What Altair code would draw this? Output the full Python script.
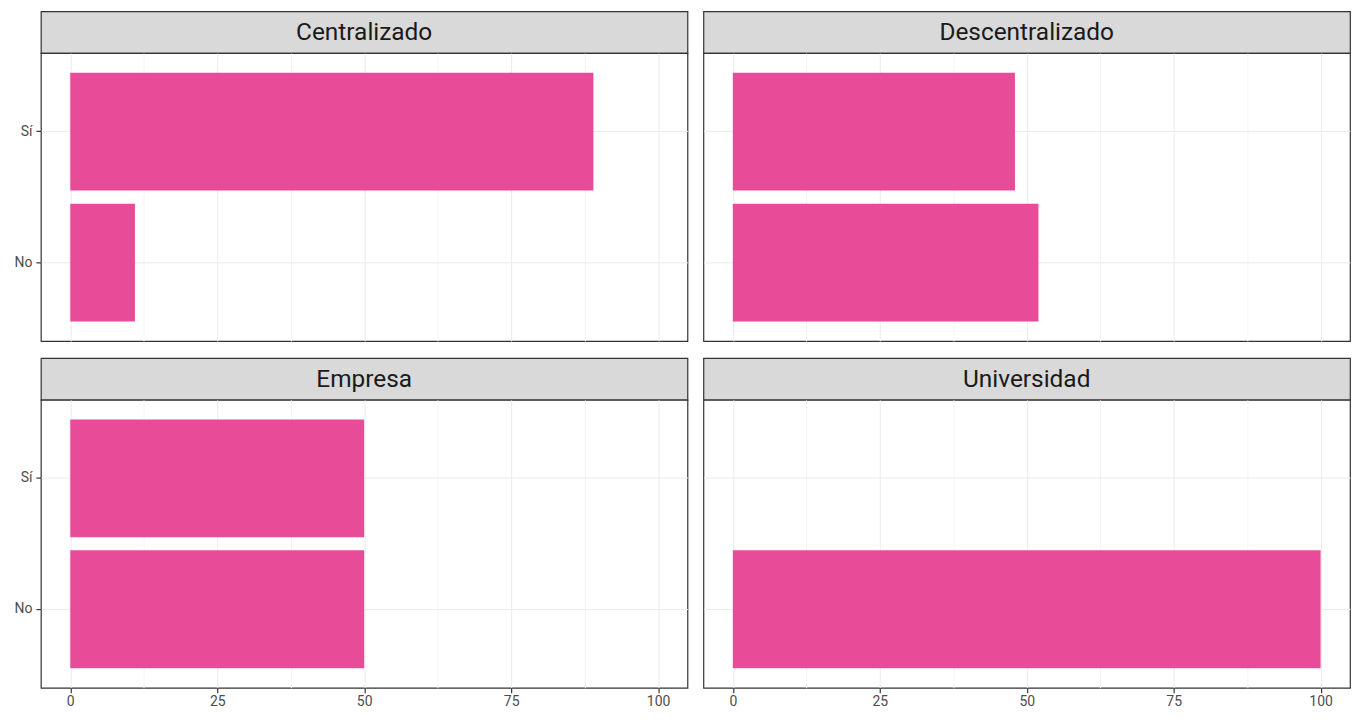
import altair as alt
import pandas as pd

groups = ["Centralizado", "Descentralizado", "Empresa", "Universidad"]
responses = ["Sí", "No"]
values_si = [89, 48, 50, 0]
values_no = [11, 52, 50, 100]
x_ticks = [0, 12.5, 25, 37.5, 50, 62.5, 75, 87.5, 100]

PINK = "#E84C99"
W = 649
PH = 289
SH = 42
FONT = "Roboto"


def panel(i, show_y, show_x):
    name = groups[i]
    df = pd.DataFrame({"resp": responses, "pct": [values_si[i], values_no[i]]})
    grid_color = {"condition": {"test": "datum.value % 25 === 0", "value": "#EBEBEB"}, "value": "#F4F4F4"}
    if show_x:
        xaxis = alt.Axis(values=x_ticks, grid=True, gridColor=grid_color, domain=False,
                         labelExpr="datum.value % 25 === 0 ? datum.label : ''",
                         labelOverlap=False, tickSize=5, tickColor="#333333", tickWidth=1.2,
                         tickOpacity={"condition": {"test": "datum.value % 25 === 0", "value": 1}, "value": 0},
                         labelFont=FONT, labelFontSize=14, labelColor="#4D4D4D", labelPadding=2)
    else:
        xaxis = alt.Axis(values=x_ticks, grid=True, gridColor=grid_color, domain=False,
                         labels=False, ticks=False)
    if show_y:
        yaxis = alt.Axis(grid=True, gridColor="#EBEBEB", bandPosition=0.5, domain=False,
                         tickSize=5, tickColor="#333333", tickWidth=1.2, labelFont=FONT, labelFontSize=14,
                         labelColor="#4D4D4D", labelPadding=4)
    else:
        yaxis = alt.Axis(grid=True, gridColor="#EBEBEB", bandPosition=0.5, domain=False,
                         labels=False, ticks=False)

    strip = alt.Chart(pd.DataFrame({"f": [name]})).mark_text(
        font=FONT, fontSize=24.5, color="#1A1A1A", align="center", baseline="middle"
    ).encode(
        x=alt.value(W / 2), y=alt.value(SH / 2 + 1), text="f:N"
    ).properties(width=W, height=SH,
                 view=alt.ViewBackground(fill="#D9D9D9", stroke="#333333", strokeWidth=1.2))

    bars = alt.Chart(df).mark_bar(color=PINK).encode(
        x=alt.X("pct:Q", scale=alt.Scale(domain=[-5, 105], nice=False, zero=False), axis=xaxis, title=None),
        x2=alt.datum(0),
        y=alt.Y("resp:N", sort=responses,
                scale=alt.Scale(domain=responses, paddingInner=0.1, paddingOuter=0.15),
                axis=yaxis, title=None),
    ).properties(width=W, height=PH,
                 view=alt.ViewBackground(fill="white", stroke="#333333", strokeWidth=1.2))
    return alt.vconcat(strip, bars, spacing=0, bounds="flush")


row1 = alt.hconcat(panel(0, True, False), panel(1, False, False), spacing=14)
row2 = alt.hconcat(panel(2, True, True), panel(3, False, True), spacing=14)
chart = alt.vconcat(row1, row2, spacing=15).properties(
    padding={"top": 1, "left": 5, "right": 0, "bottom": 0}
).configure(background="white")

chart.save("out.html", embed_options={"renderer": "svg", "actions": False})
